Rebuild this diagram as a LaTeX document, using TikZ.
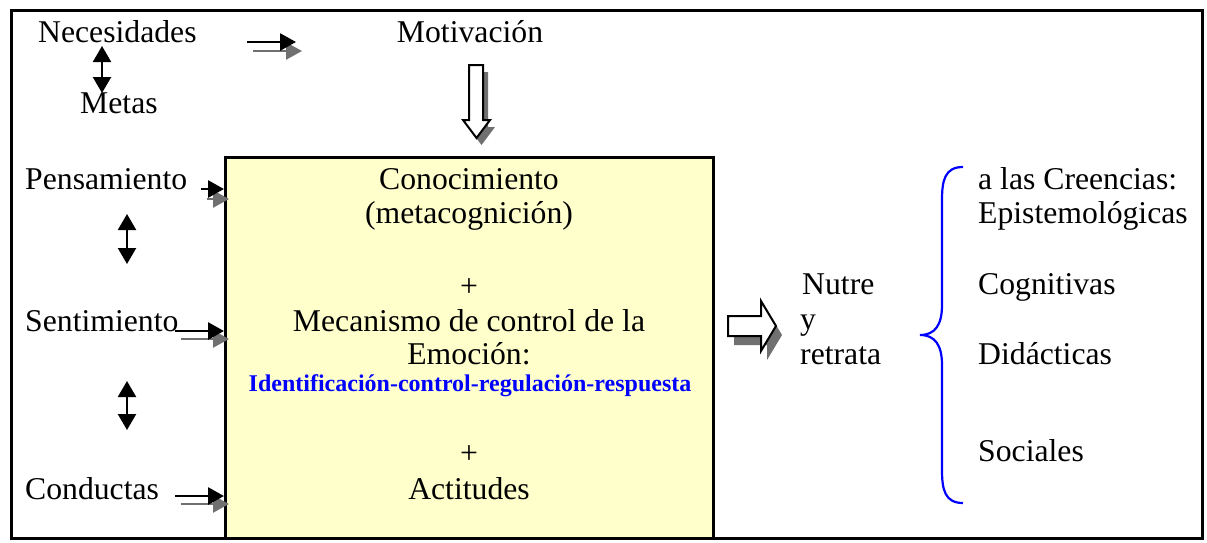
\documentclass[tikz,border=0pt]{standalone}
\usepackage{fontspec}
\setmainfont{Liberation Serif}
\usetikzlibrary{arrows.meta}
\definecolor{boxyellow}{HTML}{FFFFCC}
\definecolor{shadowgray}{HTML}{707070}
\definecolor{braceblue}{HTML}{0000FF}
\begin{document}
\begin{tikzpicture}[x=1pt,y=-1pt,
  txt/.style={inner sep=0pt, font=\fontsize{31.7}{38}\selectfont},
  bluetxt/.style={inner sep=0pt, text=braceblue, font=\fontsize{24}{28}\selectfont\bfseries},
  blkarrow/.style={-{Triangle[length=16,width=17]}, line width=2.8, draw=black},
  shdarrow/.style={-{Triangle[length=16,width=17]}, line width=2.4, draw=shadowgray, fill=shadowgray},
  dblarrow/.style={{Triangle[length=16,width=18]}-{Triangle[length=16,width=18]}, line width=2.2},
  hollow/.style={draw=black, line width=2, fill=white},
  hollowshadow/.style={fill=shadowgray, draw=none}
]
\useasboundingbox (0,0) rectangle (1207,542);
% yellow box
\node[draw, line width=3, fill=boxyellow, minimum width=488, minimum height=381, inner sep=0] (box) at (469,347.5) {};
% outer frame
\draw[line width=3] (11,10) rectangle (1202,538);

% left column texts
\node[txt, anchor=base west] (nec) at (38,42) {Necesidades};
\node[txt, anchor=base] (mot) at (470,42) {Motivación};
\node[txt, anchor=base west] (met) at (80,113) {Metas};
\node[txt, anchor=base west] (pen) at (25,189) {Pensamiento};
\node[txt, anchor=base west] (sen) at (25,331) {Sentimiento};
\node[txt, anchor=base west] (con) at (25,499) {Conductas};

% box texts
\node[txt, anchor=base] (c1) at (469,189) {Conocimiento};
\node[txt, anchor=base] (c2) at (469,223) {(metacognición)};
\node[txt, anchor=base] (p1) at (469,296) {+};
\node[txt, anchor=base] (m1) at (469,331) {Mecanismo de control de la};
\node[txt, anchor=base] (m2) at (469,364) {Emoción:};
\node[bluetxt, anchor=base] (m3) at (470,391) {Identificación-control-regulación-respuesta};
\node[txt, anchor=base] (p2) at (469,463) {+};
\node[txt, anchor=base] (act) at (469,499) {Actitudes};

% Nutre y retrata
\node[txt, anchor=base west] (n1) at (802,294) {Nutre};
\node[txt, anchor=base west] (n2) at (800,329) {y};
\node[txt, anchor=base west] (n3) at (800,364) {retrata};

% right column
\node[txt, anchor=base west] (r1) at (978,189) {a las Creencias:};
\node[txt, anchor=base west] (r2) at (978,223) {Epistemológicas};
\node[txt, anchor=base west] (r3) at (978,294) {Cognitivas};
\node[txt, anchor=base west] (r4) at (978,364) {Didácticas};
\node[txt, anchor=base west] (r5) at (978,461) {Sociales};

% brace
\coordinate (bt) at (963,167);
\coordinate (bm) at (920,335);
\coordinate (bb) at (963,503);
\draw[braceblue, line width=2.2]
  (bt) .. controls (945,167) and (942,180) .. (942,200)
  -- (942,305) .. controls (942,325) and (935,335) .. (bm)
  .. controls (935,335) and (942,345) .. (942,365)
  -- (942,470) .. controls (942,490) and (945,503) .. (bb);

% small arrows with shadows
\coordinate (a1s) at (247,42);  \coordinate (a1e) at (296,42);
\coordinate (a1ss) at (253,51); \coordinate (a1se) at (302,51);
\draw[shdarrow] (a1ss) -- (a1se);
\draw[blkarrow] (a1s) -- (a1e);

\coordinate (a2s) at (201,189);  \coordinate (a2e) at (224,189);
\coordinate (a2ss) at (207,199); \coordinate (a2se) at (229,199);
\draw[shdarrow] (a2ss) -- (a2se);
\draw[blkarrow] (a2s) -- (a2e);

\coordinate (a3s) at (175,331);  \coordinate (a3e) at (224,331);
\coordinate (a3ss) at (181,339); \coordinate (a3se) at (229,339);
\draw[shdarrow] (a3ss) -- (a3se);
\draw[blkarrow] (a3s) -- (a3e);

\coordinate (a4s) at (175,496);  \coordinate (a4e) at (224,496);
\coordinate (a4ss) at (181,504); \coordinate (a4se) at (229,504);
\draw[shdarrow] (a4ss) -- (a4se);
\draw[blkarrow] (a4s) -- (a4e);

% double arrows
\coordinate (d1t) at (102,46);  \coordinate (d1b) at (102,93);
\draw[dblarrow] (d1t) -- (d1b);
\coordinate (d2t) at (127,214); \coordinate (d2b) at (127,264);
\draw[dblarrow] (d2t) -- (d2b);
\coordinate (d3t) at (127,381); \coordinate (d3b) at (127,430);
\draw[dblarrow] (d3t) -- (d3b);

% hollow down arrow
\begin{scope}[shift={(5,7)}]
\fill[shadowgray] (469,65)--(483,65)--(483,120)--(490,120)--(476.5,138)--(463,120)--(469,120)--cycle;
\end{scope}
\draw[hollow] (469,65)--(483,65)--(483,120)--(490,120)--(476.5,138)--(463,120)--(469,120)--cycle;

% hollow right arrow
\begin{scope}[shift={(6,9)}]
\fill[shadowgray] (728,316)--(761,316)--(761,301)--(776,326)--(761,351)--(761,336)--(728,336)--cycle;
\end{scope}
\draw[hollow] (728,316)--(761,316)--(761,301)--(776,326)--(761,351)--(761,336)--(728,336)--cycle;
\end{tikzpicture}
\end{document}
